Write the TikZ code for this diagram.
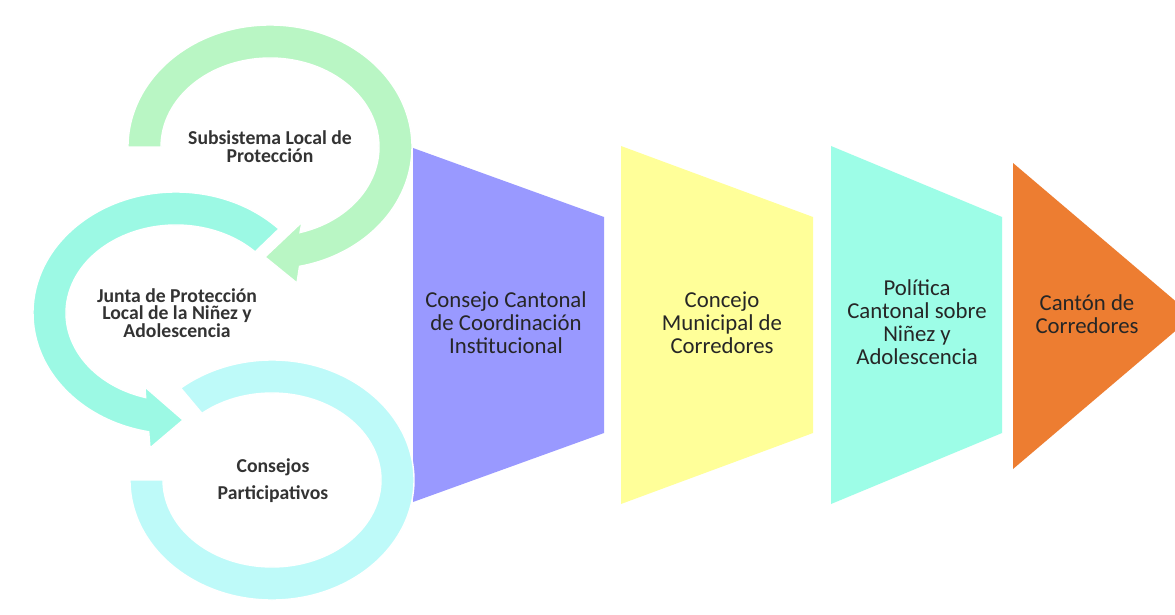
\documentclass[tikz,border=0pt]{standalone}
\usepackage{fontspec}
\setmainfont{Carlito}
\usepackage{tikz}
\usetikzlibrary{calc,positioning}

\definecolor{ringA}{HTML}{B9F6C4}
\definecolor{ringB}{HTML}{9CF9E4}
\definecolor{ringC}{HTML}{BEFAF9}
\definecolor{boxA}{HTML}{9999FF}
\definecolor{boxB}{HTML}{FFFF99}
\definecolor{boxC}{HTML}{9DFDE7}
\definecolor{boxD}{HTML}{ED7D31}

\begin{document}
\begin{tikzpicture}[x=0.025cm, y=0.025cm,
  ring/.style={draw=white, line width=1pt},
  stage/.style={draw=none},
  lefttxt/.style={align=center, text=black!80, font=\bfseries\fontsize{14pt}{12.6pt}\selectfont},
  stagetxt/.style={align=center, text=black!85, font=\fontsize{16.2pt}{16.4pt}\selectfont}]
			\useasboundingbox[fill=white] (0,0) rectangle (1175,614);
			\clip (0,0) rectangle (1175,614);

			% stages
			\fill[boxA] (413,466) -- (604,397) -- (604,181) -- (413,112) -- cycle;
			\fill[boxB] (621,468) -- (813,397) -- (813,181) -- (621,110) -- cycle;
			\fill[boxC] (831,468) -- (1002,397) -- (1002,181) -- (831,110) -- cycle;
			\fill[boxD] (1013,451) -- (1193,298) -- (1013,145) -- cycle;

			% circular arrows
			\coordinate (g) at (270,467);
			\coordinate (j) at (176,301);
			\coordinate (c) at (272,134);

			\filldraw[ring, fill=ringC] ($(c)+(180:142 and 120)$) arc[start angle=180, end angle=490, x radius=142, y radius=120]
				-- ($(c)+(130:109 and 87)$) arc[start angle=490, end angle=180, x radius=109, y radius=87] -- cycle;
			\filldraw[ring, fill=ringB] ($(j)+(44:143 and 121)$) arc[start angle=44, end angle=259, x radius=143, y radius=121]
				-- (150,166) -- (183,194) -- (145,227)
				-- ($(j)+(254:110 and 88)$) arc[start angle=254, end angle=44, x radius=110, y radius=88] -- cycle;
			\filldraw[ring, fill=ringA] ($(g)+(180:142 and 122)$) arc[start angle=180, end angle=-78, x radius=142, y radius=122]
				-- (297,331) -- (265,357) -- (302,392)
				-- ($(g)+(-74:109 and 89)$) arc[start angle=-74, end angle=180, x radius=109, y radius=89] -- cycle;

			\node[lefttxt] (s1) at (270,467) {Subsistema Local de\\Protección};
			\node[lefttxt] (s2) at (177,301) {Junta de Protección\\Local de la Niñez y\\Adolescencia};
			\node[lefttxt] (s3) at (273,133) {Consejos\\[6.6pt]Participativos};

			\node[stagetxt] (p1) at (506,291) {Consejo Cantonal\\de Coordinación\\Institucional};
			\node[stagetxt] (p2) at (722,291) {Concejo\\Municipal de\\Corredores};
			\node[stagetxt] (p3) at (917,292) {Política\\Cantonal sobre\\Niñez y\\Adolescencia};
			\node[stagetxt] (p4) at (1087,300) {Cantón de\\Corredores};
		\end{tikzpicture}
\end{document}
